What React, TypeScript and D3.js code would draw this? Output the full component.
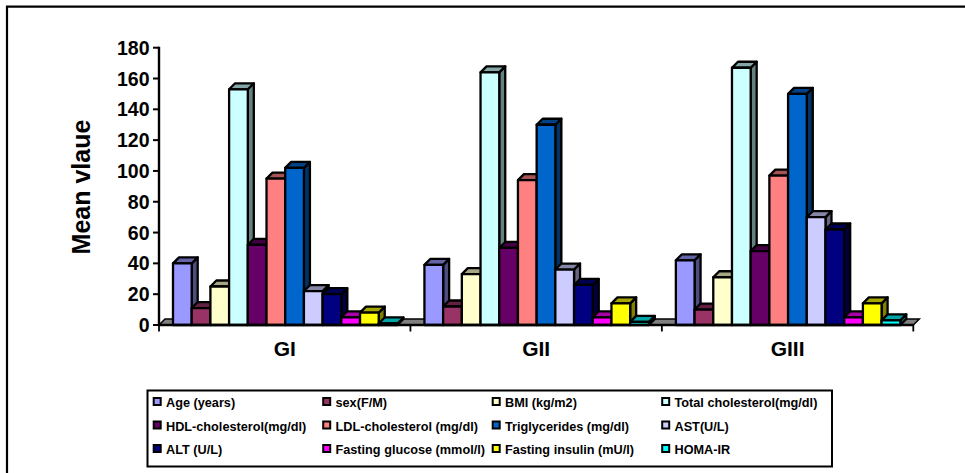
import React from "react";
import * as d3 from "d3";

const groups = ["GI", "GII", "GIII"];
const seriesNames = [
  "Age (years)", "sex(F/M)", "BMI (kg/m2)", "Total cholesterol(mg/dl)",
  "HDL-cholesterol(mg/dl)", "LDL-cholesterol (mg/dl)", "Triglycerides (mg/dl)", "AST(U/L)",
  "ALT (U/L)", "Fasting glucose (mmol/l)", "Fasting insulin (mU/l)", "HOMA-IR",
];
const seriesColors = [
  "#9999FF", "#993366", "#FFFFCC", "#CCFFFF", "#660066", "#FF8080",
  "#0066CC", "#CCCCFF", "#000080", "#FF00FF", "#FFFF00", "#00FFFF",
];
const valuesGI = [40, 11, 25, 153, 52, 95, 102, 22, 20, 5, 8, 1];
const valuesGII = [39, 12, 33, 164, 50, 94, 130, 36, 26, 5, 14, 2];
const valuesGIII = [42, 10, 31, 167, 48, 97, 150, 70, 62, 5, 14, 3];
const groupValues = [valuesGI, valuesGII, valuesGIII];
const yTicks = [0, 20, 40, 60, 80, 100, 120, 140, 160, 180];
const yTitle = "Mean vlaue";

const FONT = "'Liberation Sans', Arial, sans-serif";
const DEPTH = 6;

const x0 = d3.scaleBand<string>().domain(groups).range([159, 913.3]);
const x1 = d3.scaleBand<string>().domain(seriesNames).range([14, x0.bandwidth() - 13]);
const y = d3.scaleLinear().domain([0, 180]).range([325, 47.7]);

const shade = (c: string, k: number) => {
  const r = d3.rgb(c);
  return d3.rgb(r.r * k, r.g * k, r.b * k).formatHex();
};
const poly = (pts: [number, number][]) => pts.map((p) => p.join(",")).join(" ");

const legendCols = [153, 322.5, 492, 661.5];
const legendRows = [403, 426.5, 450];

export default function App() {
  const y0 = y(0);
  const xs = x0.range();
  const tickXs = [...groups.map((g) => x0(g)!), xs[1]];
  return (
    <svg width={965} height={473} style={{ position: "absolute", left: 0, top: 0, background: "#fff" }} fontFamily={FONT} fontWeight="bold">
      <line x1={6} x2={965} y1={6.7} y2={6.7} stroke="#000" strokeWidth={2.2} />
      <line x1={7} x2={7} y1={6} y2={473} stroke="#000" strokeWidth={2.2} />
      <polygon points={poly([[xs[0], y0], [xs[0] + DEPTH, y0 - DEPTH], [xs[1] + DEPTH, y0 - DEPTH], [xs[1], y0]])} fill="#808080" stroke="#000" strokeWidth={1.5} />
      {groups.map((g, gi) =>
        seriesNames.map((s, si) => {
          const bx = x0(g)! + x1(s)!;
          const w = x1.bandwidth();
          const top = y(groupValues[gi][si]);
          const c = seriesColors[si];
          return (
            <g key={g + s} stroke="#000" strokeWidth={2.3} strokeLinejoin="round">
              <polygon points={poly([[bx + w, top], [bx + w + DEPTH, top - DEPTH], [bx + w + DEPTH, y0 - DEPTH], [bx + w, y0]])} fill={shade(c, 0.5)} />
              <polygon points={poly([[bx, top], [bx + DEPTH, top - DEPTH], [bx + w + DEPTH, top - DEPTH], [bx + w, top]])} fill={shade(c, 0.65)} />
              <rect x={bx} y={top} width={w} height={y0 - top} fill={c} />
            </g>
          );
        })
      )}
      <line x1={xs[0]} x2={xs[0]} y1={y.range()[1] - 1} y2={y0} stroke="#000" strokeWidth={2.4} />
      <line x1={xs[0]} x2={xs[1]} y1={y0} y2={y0} stroke="#000" strokeWidth={2.4} />
      {yTicks.map((t) => (
        <g key={t}>
          <line x1={153} x2={xs[0]} y1={y(t)} y2={y(t)} stroke="#000" strokeWidth={2} />
          <text x={149.5} y={y(t)} textAnchor="end" dominantBaseline="central" fontSize={19.5}>{t}</text>
        </g>
      ))}
      {tickXs.map((t) => (
        <line key={t} x1={t} x2={t} y1={y0} y2={y0 + 6.5} stroke="#000" strokeWidth={1.8} />
      ))}
      {groups.map((g) => (
        <text key={g} x={x0(g)! + x0.bandwidth() / 2} y={356} textAnchor="middle" fontSize={21}>{g}</text>
      ))}
      <text transform="translate(90,187) rotate(-90)" textAnchor="middle" fontSize={25}>{yTitle}</text>
      <rect x={147.5} y={390.5} width={684.5} height={76} fill="#fff" stroke="#000" strokeWidth={2} />
      {seriesNames.map((s, i) => {
        const lx = legendCols[i % 4];
        const ly = legendRows[Math.floor(i / 4)];
        return (
          <g key={s}>
            <rect x={lx + 0.7} y={ly - 5} width={7} height={7} fill={seriesColors[i]} stroke="#000" strokeWidth={2} />
            <text x={lx + 13} y={ly} dominantBaseline="central" fontSize={12.7}>{s}</text>
          </g>
        );
      })}
    </svg>
  );
}
